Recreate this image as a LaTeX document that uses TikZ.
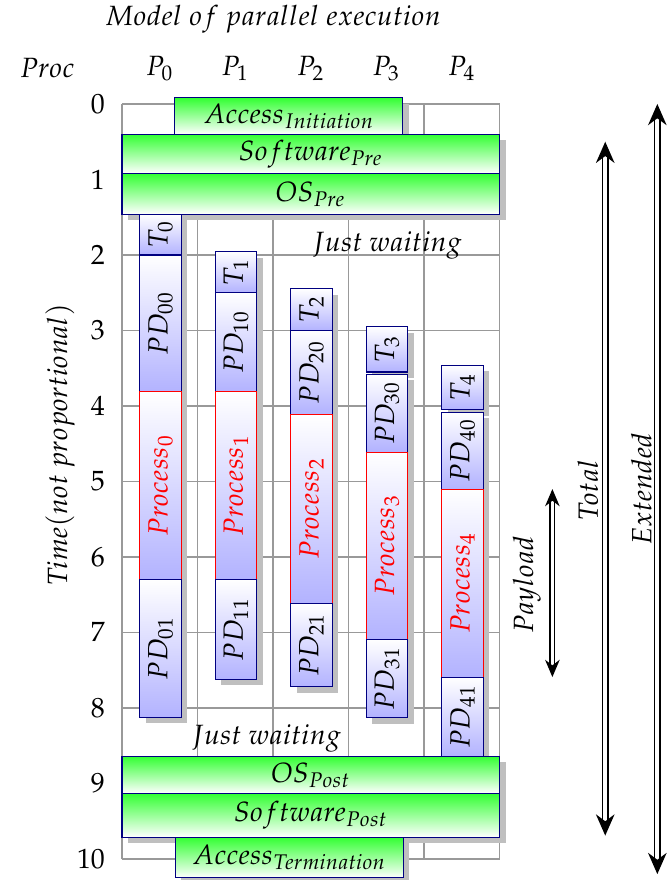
\documentclass[tikz,border=0pt]{standalone}
\usepackage[T1]{fontenc}
\usepackage{mathpazo}
\usetikzlibrary{shadows,arrows.meta}
\tikzset{
  shad/.style={drop shadow={shadow xshift=2.3pt, shadow yshift=-2.3pt, fill=black!25, opacity=1}},
  gbox/.style={shad, draw=blue!50!black, top color=green!80, bottom color=white, inner sep=0pt, outer sep=0pt},
  bbox/.style={shad, draw=blue!50!black, top color=white, bottom color=blue!30, minimum width=0.55cm, inner sep=0pt, outer sep=0pt},
  pbox/.style={bbox, draw=red},
  gridline/.style={draw=gray!80, line width=0.5pt},
  dblarrow/.style={double, double distance=1.6pt, line width=0.6pt, {Stealth[length=8pt,width=7pt]}-{Stealth[length=8pt,width=7pt]}},
  thinarrow/.style={double, double distance=1.2pt, line width=0.5pt, {Stealth[length=6.5pt,width=5.5pt]}-{Stealth[length=6.5pt,width=5.5pt]}},
  txt/.style={inner sep=1pt}
}
\newcommand\mycolbox[6]{\node[#1, minimum height=#4cm] (#2) at (#3,-#5) {\rotatebox{90}{#6}};}
\begin{document}
\fontsize{10.5pt}{13pt}\selectfont
\begin{tikzpicture}
\useasboundingbox (-1.616,1.377) rectangle (7.272,-10.278);
% grid
\draw[gridline] (0,0) grid (5,-10);
% header
\node[txt] (title) at (2.0,1.12) {$Model\ of\ parallel\ execution$};
\node[txt] (proc) at (-0.99,0.47) {$Proc$};
\foreach \i in {0,...,4} {\node[txt] (P\i) at (\i+0.5,0.47) {$P_{\i}$};}
\foreach \t in {0,...,10} {\node[anchor=east, inner sep=0pt] (tick\t) at (-0.22,-\t) {$\t$};}
\node[rotate=90] (timelab) at (-0.82,-4.52) {$Time(not\ proportional)$};
% top green boxes
\node[gbox, minimum width=3.02cm, minimum height=0.48cm] (accI) at (2.21,-0.16) {$Access_{Initiation}$};
\node[gbox, minimum width=5cm, minimum height=0.52cm] (swPre) at (2.5,-0.66) {$Software_{Pre}$};
\node[gbox, minimum width=5cm, minimum height=0.54cm] (osPre) at (2.5,-1.19) {$OS_{Pre}$};
% P0
\mycolbox{bbox}{T0}{0.51}{0.54}{1.73}{$T_0$}
\mycolbox{bbox}{PD00}{0.51}{1.81}{2.905}{$PD_{00}$}
\mycolbox{pbox}{Pr0}{0.51}{2.49}{5.055}{$\color{red}Process_0$}
\mycolbox{bbox}{PD01}{0.51}{1.82}{7.21}{$PD_{01}$}
% P1
\mycolbox{bbox}{T1}{1.51}{0.54}{2.23}{$T_1$}
\mycolbox{bbox}{PD10}{1.51}{1.31}{3.155}{$PD_{10}$}
\mycolbox{pbox}{Pr1}{1.51}{2.49}{5.055}{$\color{red}Process_1$}
\mycolbox{bbox}{PD11}{1.51}{1.32}{6.96}{$PD_{11}$}
% P2
\mycolbox{bbox}{T2}{2.51}{0.55}{2.725}{$T_2$}
\mycolbox{bbox}{PD20}{2.51}{1.11}{3.555}{$PD_{20}$}
\mycolbox{pbox}{Pr2}{2.51}{2.50}{5.36}{$\color{red}Process_2$}
\mycolbox{bbox}{PD21}{2.51}{1.11}{7.165}{$PD_{21}$}
% P3
\mycolbox{bbox}{T3}{3.51}{0.60}{3.25}{$T_3$}
\mycolbox{bbox}{PD30}{3.51}{1.03}{4.095}{$PD_{30}$}
\mycolbox{pbox}{Pr3}{3.51}{2.48}{5.85}{$\color{red}Process_3$}
\mycolbox{bbox}{PD31}{3.51}{1.04}{7.61}{$PD_{31}$}
% P4
\mycolbox{bbox}{T4}{4.51}{0.59}{3.755}{$T_4$}
\mycolbox{bbox}{PD40}{4.51}{1.02}{4.59}{$PD_{40}$}
\mycolbox{pbox}{Pr4}{4.51}{2.49}{6.345}{$\color{red}Process_4$}
\mycolbox{bbox}{PD41}{4.51}{1.05}{8.115}{$PD_{41}$}
% waiting labels
\node[txt] (wait1) at (3.51,-1.87) {$Just\ waiting$};
\node[txt] (wait2) at (1.91,-8.40) {$Just\ waiting$};
% bottom green boxes
\node[gbox, minimum width=5cm, minimum height=0.49cm] (osPost) at (2.5,-8.885) {$OS_{Post}$};
\node[gbox, minimum width=5cm, minimum height=0.58cm] (swPost) at (2.5,-9.42) {$Software_{Post}$};
\node[gbox, minimum width=3.02cm, minimum height=0.54cm] (accT) at (2.215,-9.98) {$Access_{Termination}$};
% arrows
\coordinate (pay1) at (5.70,-5.10);
\coordinate (pay2) at (5.70,-7.59);
\coordinate (tot1) at (6.40,-0.50);
\coordinate (tot2) at (6.40,-9.69);
\coordinate (ext1) at (7.09,0.0);
\coordinate (ext2) at (7.09,-10.20);
\draw[thinarrow] (pay1) -- (pay2);
\draw[dblarrow] (tot1) -- (tot2);
\draw[dblarrow] (ext1) -- (ext2);
\node[rotate=90] (paylab) at (5.36,-6.37) {$Payload$};
\node[rotate=90] (totlab) at (6.17,-5.12) {$Total$};
\node[rotate=90] (extlab) at (6.88,-5.10) {$Extended$};
\end{tikzpicture}
\end{document}
